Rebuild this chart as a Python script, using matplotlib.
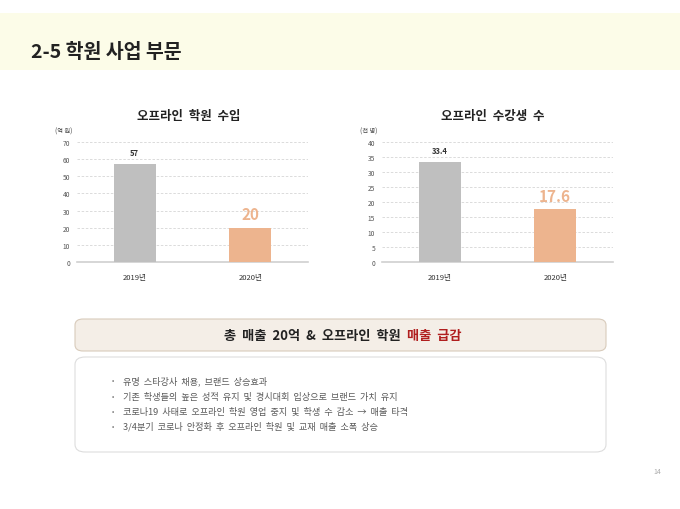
import matplotlib
matplotlib.use("Agg")
import matplotlib.pyplot as plt
from matplotlib.patches import FancyBboxPatch, Rectangle

plt.rcParams['font.family'] = ['Noto Sans CJK KR', 'DejaVu Sans']

# ---- data ----
years = ['2019년', '2020년']
revenue = [57, 20]          # 억 원
students = [33.4, 17.6]     # 천 명
revenue_labels = ['57', '20']
student_labels = ['33.4', '17.6']
revenue_ticks = [0, 10, 20, 30, 40, 50, 60, 70]
student_ticks = [0, 5, 10, 15, 20, 25, 30, 35, 40]
page_title = '2-5 학원 사업 부문'
chart_titles = ['오프라인 학원 수입', '오프라인 수강생 수']
units = ['(억 원)', '(천 명)']
headline_a = '총 매출 20억 & 오프라인 학원 '
headline_b = '매출 급감'
bullets = [
    '유명 스타강사 채용, 브랜드 상승효과',
    '기존 학생들의 높은 성적 유지 및 경시대회 입상으로 브랜드 가치 유지',
    '코로나19 사태로 오프라인 학원 영업 중지 및 학생 수 감소 → 매출 타격',
    '3/4분기 코로나 안정화 후 오프라인 학원 및 교재 매출 소폭 상승',
]
page_no = '14'

W, H = 680, 510
fig = plt.figure(figsize=(W / 100, H / 100), dpi=100)
fig.patch.set_facecolor('white')
renderer = fig.canvas.get_renderer()


def fx(x):
    return x / W


def fy(y):
    return 1 - y / H


def wide(s):
    """Wider word spacing, closer to the reference font's look."""
    return s.replace(' ', '  ')


# header band
fig.patches.append(Rectangle((0, fy(71)), 1, (71 - 14) / H, transform=fig.transFigure,
                             facecolor='#FCFCE8', edgecolor='none', zorder=0))
fig.text(fx(31), fy(52), page_title, fontsize=14, fontweight='bold', color='#222222',
         ha='left', va='center')

GRAY = '#BFBFBF'
ORANGE = '#EDB48E'


def make_chart(left, values, labels, ticks, title, unit, title_cx):
    ax = fig.add_axes([fx(left), fy(263), 231 / W, 120 / H])
    x = [0, 1]
    ax.bar(x, values, width=0.36, color=[GRAY, ORANGE], zorder=3)
    ax.set_xlim(-0.5, 1.5)
    ax.set_ylim(0, ticks[-1])
    ax.set_yticks(ticks)
    ax.set_yticklabels([str(t) for t in ticks], fontsize=4.8, color='#555555')
    ax.set_xticks(x)
    ax.set_xticklabels(years, fontsize=5.5, color='#333333')
    ax.tick_params(axis='y', length=0, pad=5)
    ax.tick_params(axis='x', length=0, pad=8)
    for s in ['top', 'right', 'left']:
        ax.spines[s].set_visible(False)
    ax.spines['bottom'].set_color('#D0D0D0')
    ax.spines['bottom'].set_linewidth(1.2)
    ax.yaxis.grid(True, linestyle=(0, (3, 2)), color='#D6D6D6', linewidth=0.6, zorder=0)
    ax.set_axisbelow(True)
    ax.annotate(labels[0], (0, values[0]), xytext=(0, 5), textcoords='offset points',
                ha='center', va='bottom', fontsize=5.5, fontweight='bold', color='#333333')
    ax.annotate(labels[1], (1, values[1]), xytext=(0, 4), textcoords='offset points',
                ha='center', va='bottom', fontsize=11, fontweight='bold', color=ORANGE)
    fig.text(fx(title_cx), fy(117), wide(title), fontsize=9, fontweight='bold',
             color='#222222', ha='center', va='center')
    fig.text(fx(left - 22), fy(132), unit, fontsize=4.5, color='#444444',
             ha='left', va='center')
    return ax


make_chart(77, revenue, revenue_labels, revenue_ticks, chart_titles[0], units[0], 189)
make_chart(382, students, student_labels, student_ticks, chart_titles[1], units[1], 493)

# headline box
hb = FancyBboxPatch((fx(75), fy(352)), (606 - 75) / W, (352 - 320) / H,
                    boxstyle='round,pad=0,rounding_size=0.012',
                    transform=fig.transFigure, facecolor='#F4EEE7',
                    edgecolor='#D8CBBB', linewidth=0.8, zorder=1)
fig.patches.append(hb)

# bullet box
bb = FancyBboxPatch((fx(75), fy(453)), (606 - 75) / W, (453 - 358) / H,
                    boxstyle='round,pad=0,rounding_size=0.015',
                    transform=fig.transFigure, facecolor='white',
                    edgecolor='#DDDDDD', linewidth=0.8, zorder=1)
fig.patches.append(bb)

# headline text (two colours)
hkw = dict(fontsize=9.5, fontweight='bold', va='center', ha='left')
ta = fig.text(0, fy(336), wide(headline_a), color='#222222', **hkw)
tb = fig.text(0, fy(336), wide(headline_b), color='#B01E1E', **hkw)
wa = ta.get_window_extent(renderer).width
wb = tb.get_window_extent(renderer).width
start = 343 - (wa + wb) / 2
ta.set_x(start / W)
tb.set_x((start + wa) / W)

# bullets
ys = [381, 397, 412, 427]
for y, b in zip(ys, bullets):
    fig.text(fx(112), fy(y), '•', fontsize=5, color='#777777', ha='left', va='center')
    fig.text(fx(123), fy(y), wide(b), fontsize=6.6, color='#5A5A5A', ha='left', va='center')

fig.text(fx(657), fy(472), page_no, fontsize=5, color='#AAAAAA', ha='center', va='center')

fig.savefig('out.png', dpi=100, facecolor='white')
